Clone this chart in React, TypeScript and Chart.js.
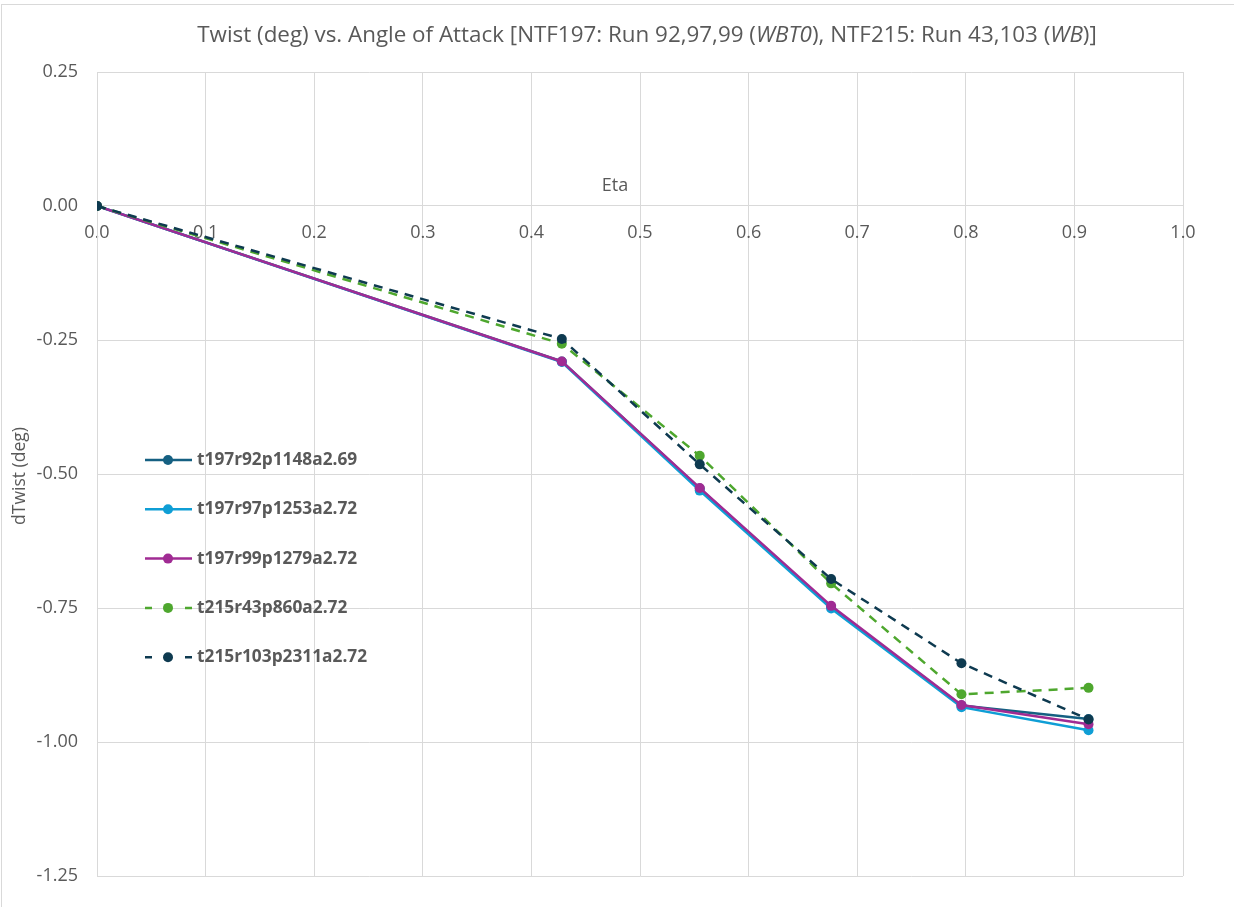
import React, { useEffect, useRef } from "react";
import { Chart, registerables } from "chart.js";

Chart.register(...registerables);

// ---- data ----
const etaValues = [0, 0.428, 0.555, 0.676, 0.796, 0.913];
const seriesNames = [
  "t197r92p1148a2.69",
  "t197r97p1253a2.72",
  "t197r99p1279a2.72",
  "t215r43p860a2.72",
  "t215r103p2311a2.72",
];
const t197r92 = [0, -0.29, -0.527, -0.748, -0.932, -0.957];
const t197r97 = [0, -0.291, -0.531, -0.751, -0.935, -0.978];
const t197r99 = [0, -0.29, -0.526, -0.746, -0.931, -0.967];
const t215r43 = [0, -0.257, -0.466, -0.704, -0.911, -0.899];
const t215r103 = [0, -0.248, -0.482, -0.696, -0.853, -0.958];
const seriesValues = [t197r92, t197r97, t197r99, t215r43, t215r103];
const seriesColors = ["#156082", "#0F9ED5", "#A02B93", "#4EA72E", "#0E3A50"];
const seriesDashed = [false, false, false, true, true];

const xTickValues = [0, 0.1, 0.2, 0.3, 0.4, 0.5, 0.6, 0.7, 0.8, 0.9, 1.0];
const yTickValues = [-1.25, -1.0, -0.75, -0.5, -0.25, 0, 0.25];

const titleParts = [
  { text: "Twist (deg) vs. Angle of Attack [NTF197: Run 92,97,99 (", italic: false },
  { text: "WBT0", italic: true },
  { text: "), NTF215: Run 43,103 (", italic: false },
  { text: "WB", italic: true },
  { text: ")]", italic: false },
];
const xAxisTitle = "Eta";
const yAxisTitle = "dTwist (deg)";

const FONT = "'Open Sans', sans-serif";
const TEXT = "#595959";
const GRID = "#d9d9d9";

const decorPlugin = {
  id: "decor",
  beforeDraw(chart: any) {
    const ctx = chart.ctx;
    ctx.save();
    ctx.fillStyle = "#ffffff";
    ctx.fillRect(0, 0, chart.width, chart.height);
    ctx.strokeStyle = GRID;
    ctx.lineWidth = 1;
    ctx.strokeRect(1.5, 4.5, chart.width + 20, chart.height + 20);
    ctx.restore();
  },
  afterDraw(chart: any) {
    const ctx = chart.ctx;
    ctx.save();
    // title with italic parts
    const size = 22.4;
    const fonts = titleParts.map((p) => `${p.italic ? "italic " : ""}${size}px ${FONT}`);
    let total = 0;
    const widths = titleParts.map((p, i) => {
      ctx.font = fonts[i];
      const w = ctx.measureText(p.text).width;
      total += w;
      return w;
    });
    let x = 647 - total / 2;
    ctx.fillStyle = TEXT;
    ctx.textBaseline = "middle";
    ctx.textAlign = "left";
    titleParts.forEach((p, i) => {
      ctx.font = fonts[i];
      ctx.fillText(p.text, x, 36);
      x += widths[i];
    });

    // x axis title above axis
    ctx.font = `18px ${FONT}`;
    ctx.textAlign = "center";
    ctx.fillText(xAxisTitle, 615, 186);

    // y axis title
    ctx.save();
    ctx.translate(20, 476);
    ctx.rotate(-Math.PI / 2);
    ctx.textAlign = "center";
    ctx.textBaseline = "middle";
    ctx.font = `17.5px ${FONT}`;
    ctx.fillText(yAxisTitle, 0, 0);
    ctx.restore();

    // legend inside plot
    const lx0 = 145;
    const lx1 = 192;
    const mx = 168;
    chart.data.datasets.forEach((ds: any, i: number) => {
      const y = 460 + i * 49.3;
      ctx.strokeStyle = ds.borderColor;
      ctx.lineWidth = 2.5;
      ctx.setLineDash([]);
      ctx.beginPath();
      if (seriesDashed[i]) {
        ctx.moveTo(lx0, y);
        ctx.lineTo(lx0 + 7, y);
        ctx.moveTo(lx1 - 7, y);
        ctx.lineTo(lx1, y);
      } else {
        ctx.moveTo(lx0, y);
        ctx.lineTo(lx1, y);
      }
      ctx.stroke();
      ctx.fillStyle = ds.borderColor;
      ctx.beginPath();
      ctx.arc(mx, y, 5, 0, Math.PI * 2);
      ctx.fill();
      ctx.fillStyle = TEXT;
      ctx.font = `bold 17.3px ${FONT}`;
      ctx.textAlign = "left";
      ctx.textBaseline = "middle";
      ctx.fillText(ds.label, 197, y);
    });
    ctx.restore();
  },
};

export default function App() {
  const ref = useRef<HTMLCanvasElement | null>(null);
  useEffect(() => {
    if (!ref.current) return;
    const datasets = seriesNames.map((name, i) => ({
      label: name,
      data: etaValues.map((x, j) => ({ x, y: seriesValues[i][j] })),
      borderColor: seriesColors[i],
      backgroundColor: seriesColors[i],
      pointBackgroundColor: seriesColors[i],
      pointBorderColor: seriesColors[i],
      borderWidth: 2.5,
      borderDash: seriesDashed[i] ? [9, 7] : [],
      pointRadius: 5,
      pointBorderWidth: 0,
      tension: 0,
      fill: false,
      order: seriesNames.length - i,
    }));
    const chart = new Chart(ref.current, {
      type: "line",
      data: { datasets },
      plugins: [decorPlugin],
      options: {
        animation: false,
        responsive: false,
        maintainAspectRatio: false,
        devicePixelRatio: 1,
        layout: { padding: { left: 0, top: 72, right: 51, bottom: 31 } },
        plugins: {
          legend: { display: false },
          title: { display: false },
          tooltip: { enabled: false },
        },
        scales: {
          x: {
            type: "linear",
            position: { y: 0 } as any,
            min: 0,
            max: 1,
            afterBuildTicks: (s: any) => {
              s.ticks = xTickValues.map((v) => ({ value: v }));
            },
            afterFit: (s: any) => {
              s.height = 0;
            },
            ticks: {
              callback: (v: any) => Number(v).toFixed(1),
              padding: 16,
              color: TEXT,
              font: { family: FONT, size: 18 },
              maxRotation: 0,
              autoSkip: false,
            },
            grid: { color: GRID, lineWidth: 1, drawTicks: false },
            border: { color: GRID, width: 1 },
          },
          y: {
            type: "linear",
            position: "left",
            min: -1.25,
            max: 0.25,
            afterBuildTicks: (s: any) => {
              s.ticks = yTickValues.map((v) => ({ value: v }));
            },
            afterFit: (s: any) => {
              s.width = 97;
            },
            ticks: {
              callback: (v: any) => Number(v).toFixed(2),
              padding: 19,
              color: TEXT,
              font: { family: FONT, size: 18 },
            },
            title: { display: false },
            grid: { color: GRID, lineWidth: 1, drawTicks: false },
            border: { color: GRID, width: 1 },
          },
        },
      } as any,
    });
    return () => chart.destroy();
  }, []);
  return (
    <div style={{ position: "fixed", left: 0, top: 0, width: 1234, height: 907, background: "#fff" }}>
      <canvas ref={ref} width={1234} height={907} style={{ display: "block", width: 1234, height: 907 }} />
    </div>
  );
}
